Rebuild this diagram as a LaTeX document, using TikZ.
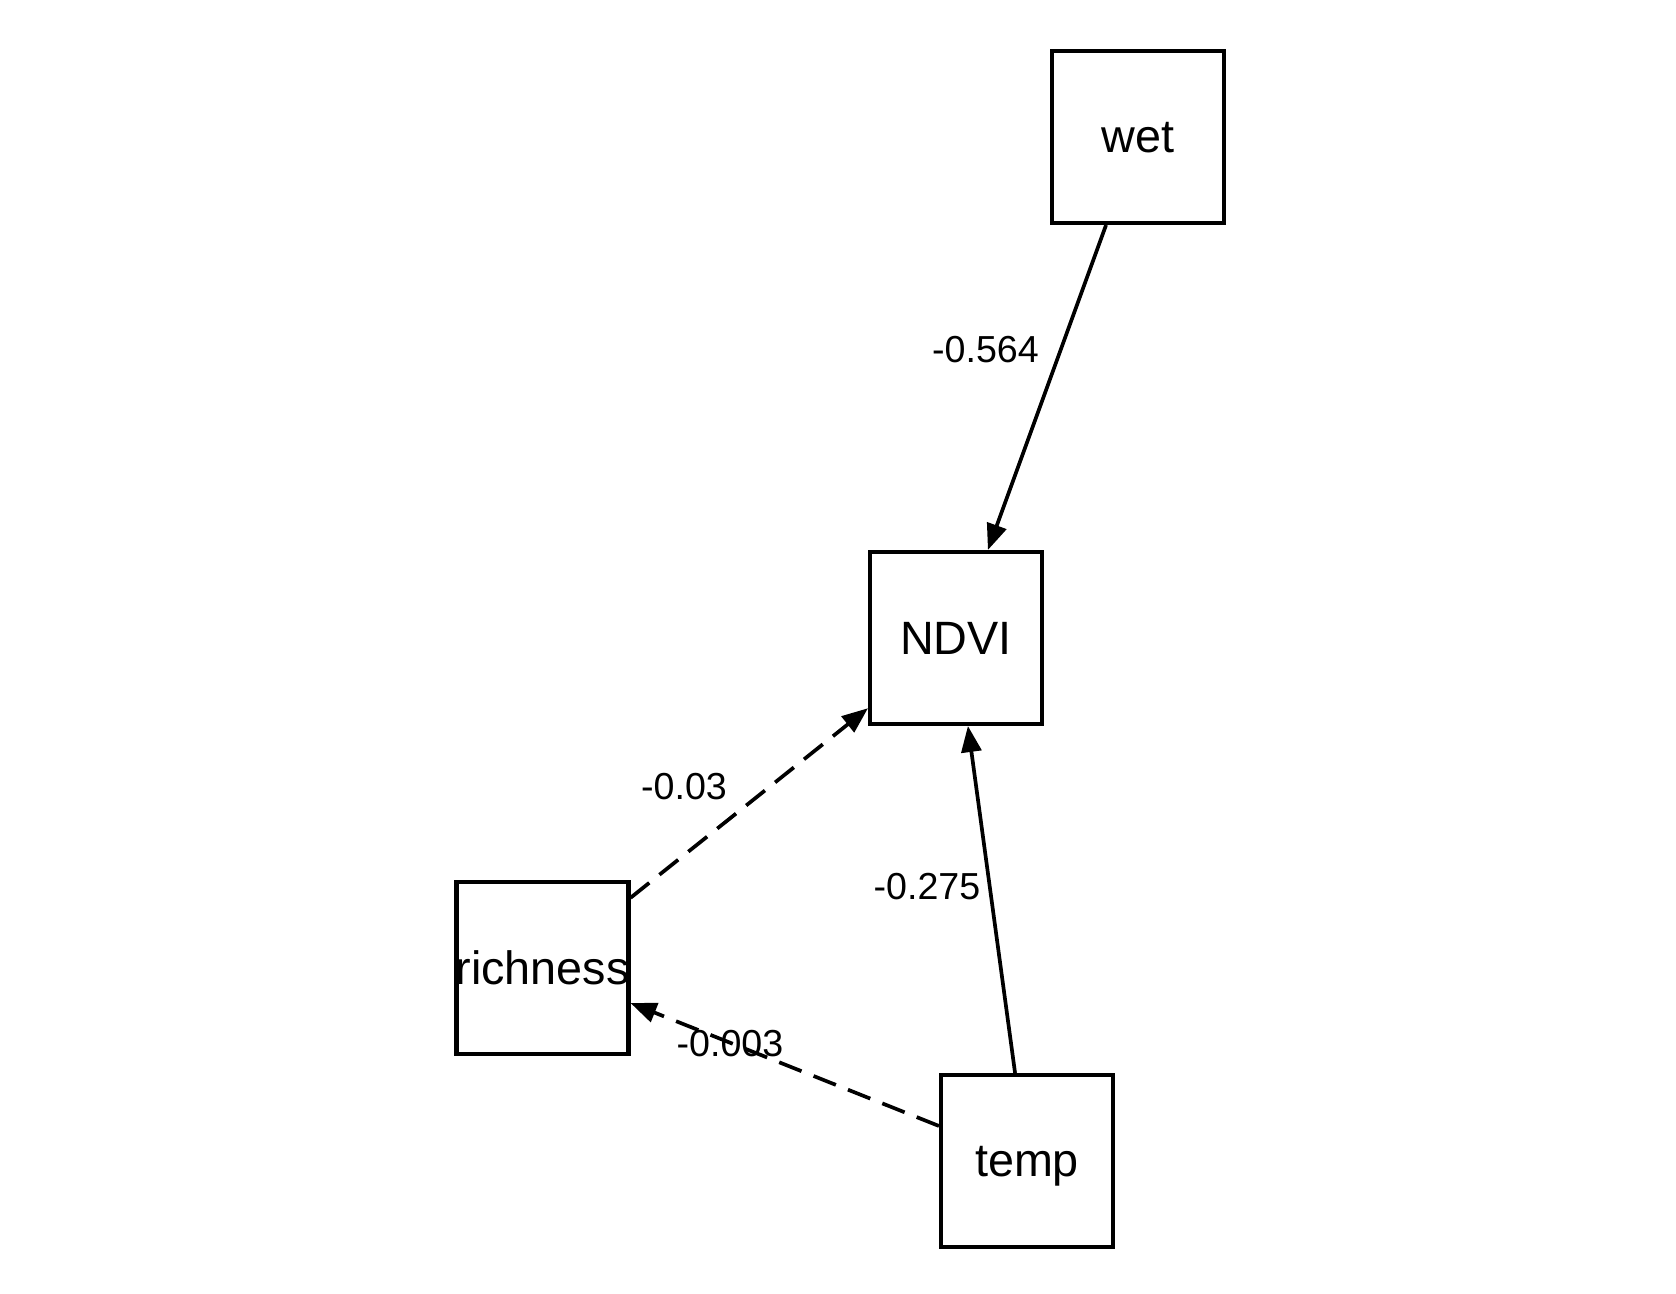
\documentclass[tikz,border=0pt]{standalone}
\usepackage{fontspec}
\setmainfont{Liberation Sans}
\usetikzlibrary{positioning,arrows.meta}

\begin{document}
\begin{tikzpicture}[
  >={Triangle[length=2.6mm, width=2mm]},
  var/.style={draw, line width=1.15pt, minimum size=1.72cm, inner sep=0pt,
    text depth=0pt, font=\fontsize{13.3}{16}\selectfont},
  coef/.style={inner sep=1pt, font=\fontsize{10.7}{13}\selectfont},
  sig/.style={->, line width=1.05pt},
  nsig/.style={->, line width=1.05pt, dash pattern=on 2.4mm off 1.3mm}
]
\useasboundingbox (0,0) rectangle (16.76,-12.94);
% variables
\node[var] (wet) at (11.38,-1.37) {wet};
\node[var] (ndvi) at (9.56,-6.38) {NDVI};
\node[var] (rich) at (5.425,-9.68) {\makebox[0pt]{richness}};
\node[var] (temp) at (10.27,-11.61) {temp};
% paths
\draw[sig] (wet) -- (ndvi);
\draw[nsig] (rich) -- (ndvi);
\draw[sig] (temp) -- (ndvi);
\draw[nsig] (temp) -- (rich);
% coefficients
\node[coef] (c564) at (9.855,-3.495) {-0.564};
\node[coef] (c03) at (6.84,-7.87) {-0.03};
\node[coef] (c275) at (9.27,-8.87) {-0.275};
\node[coef] (c003) at (7.30,-10.44) {-0.003};
\end{tikzpicture}
\end{document}
